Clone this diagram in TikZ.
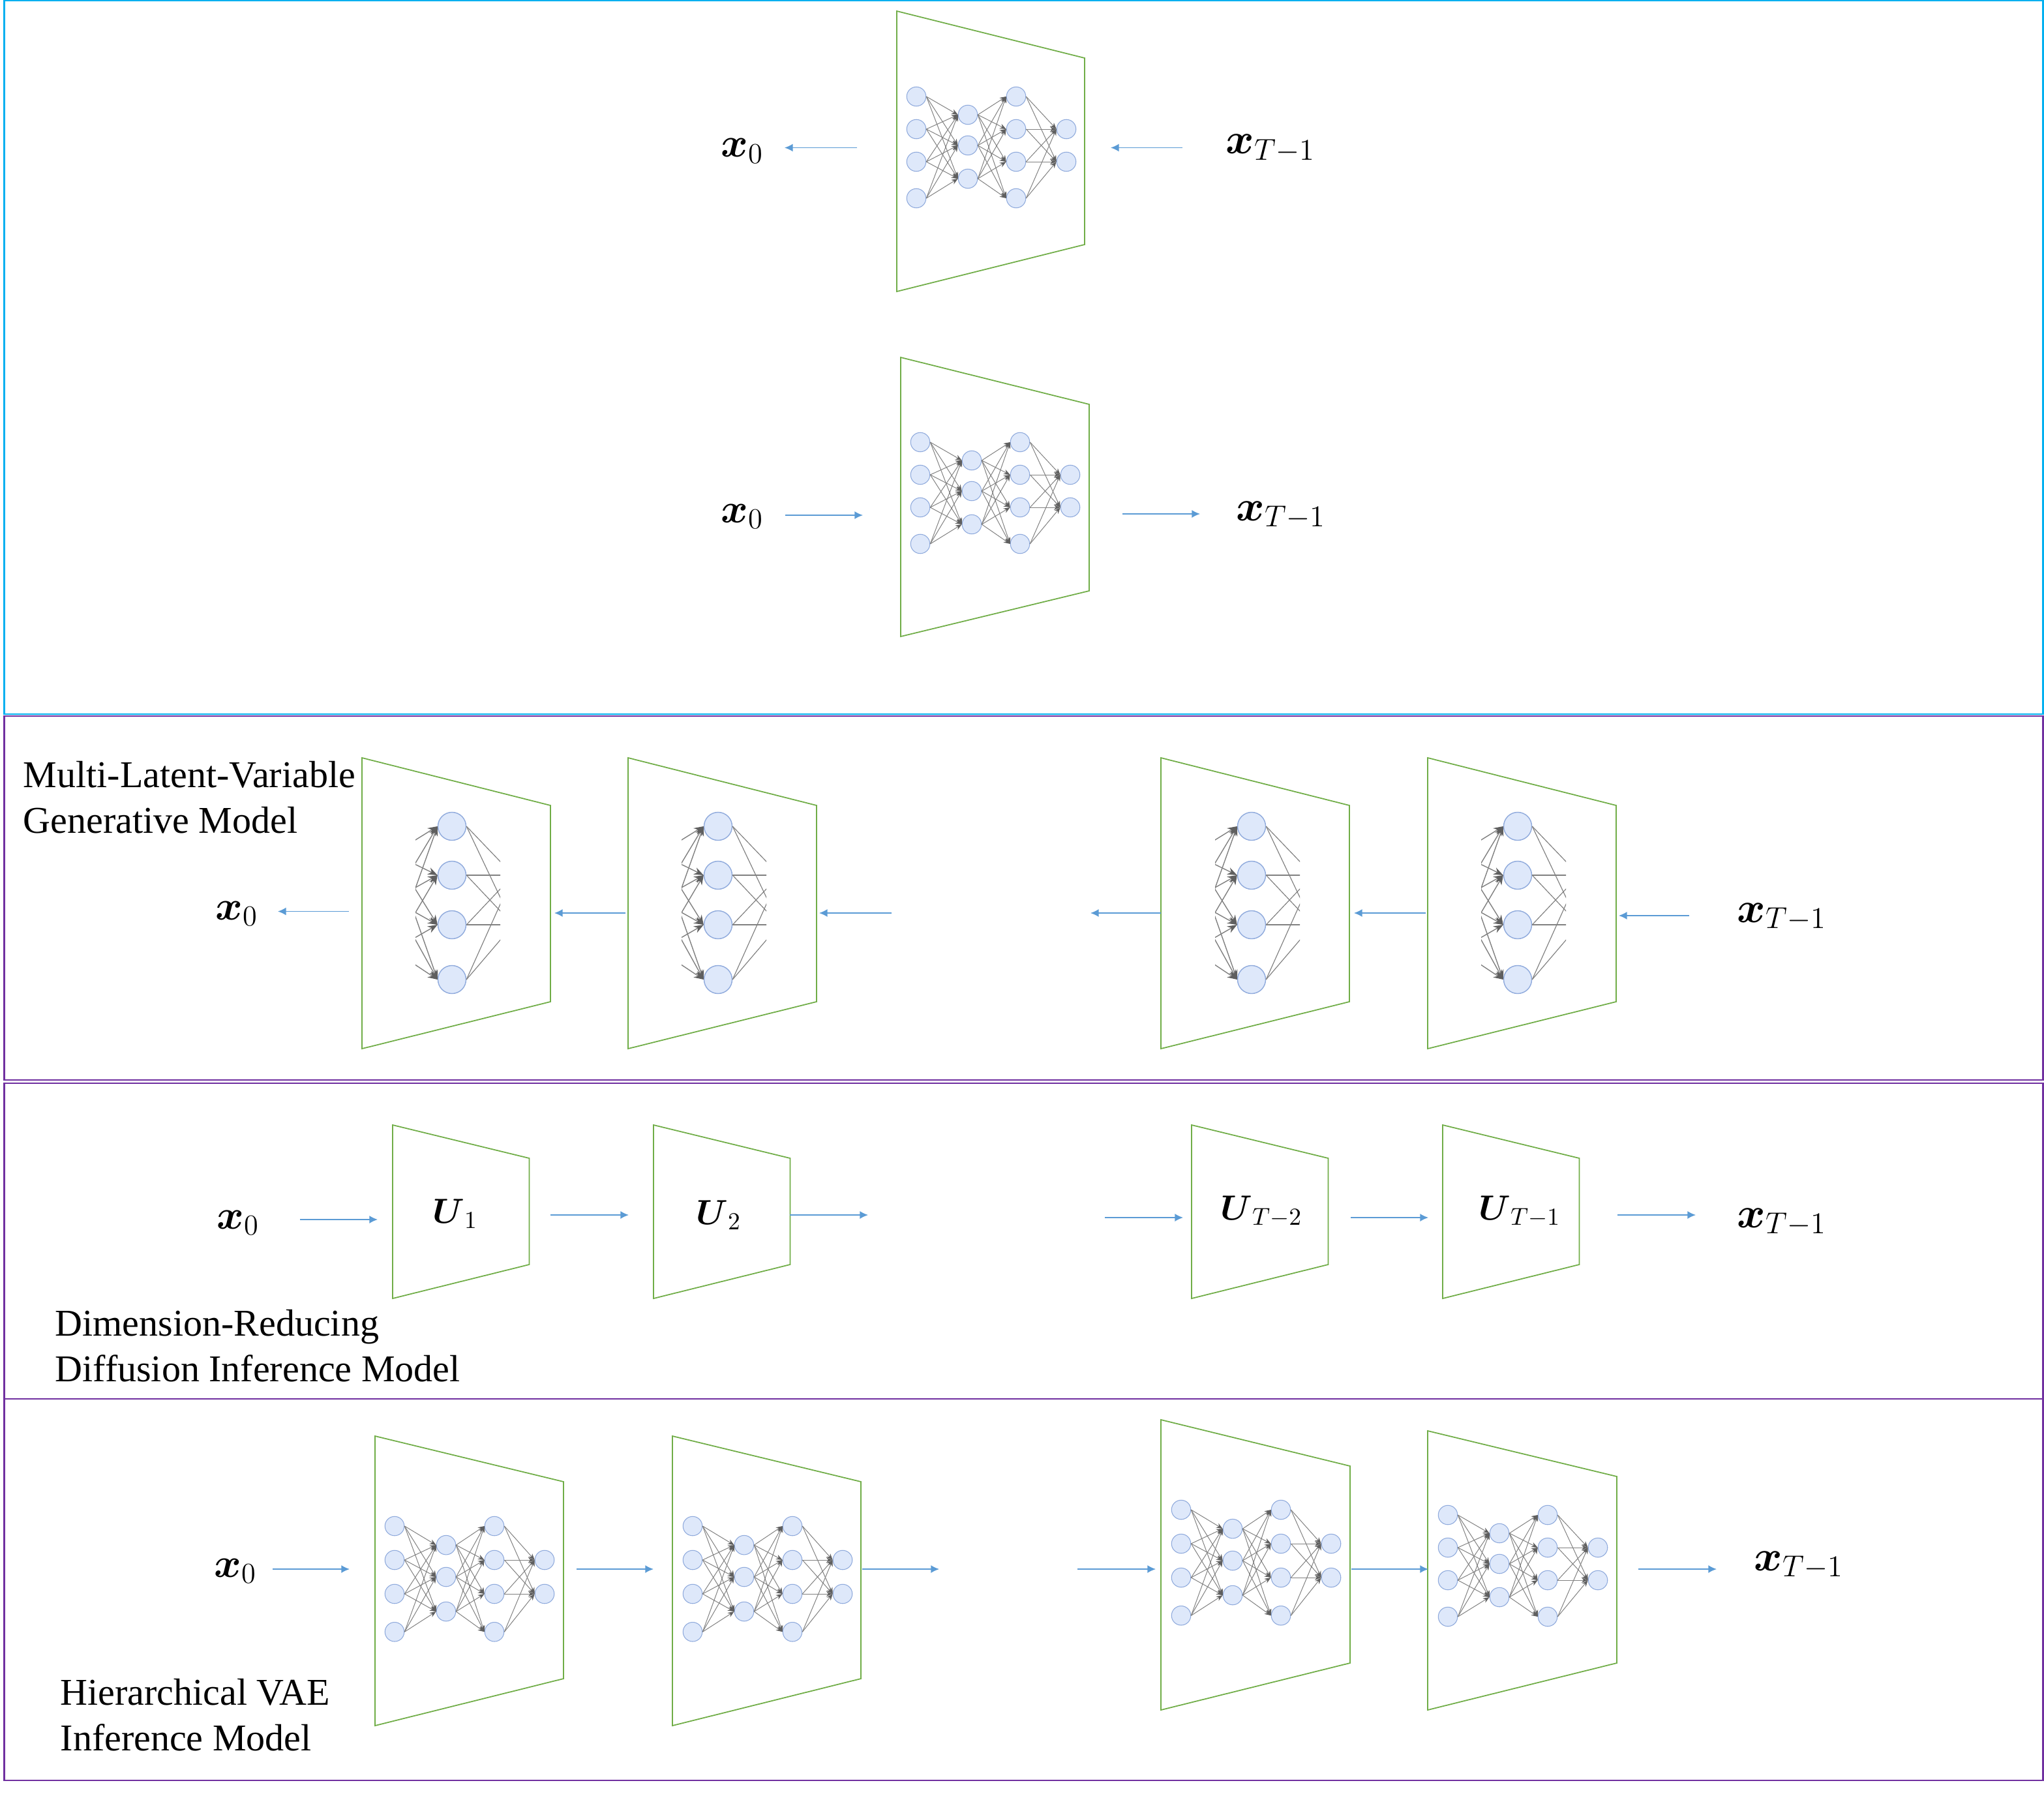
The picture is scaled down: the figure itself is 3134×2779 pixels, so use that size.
\documentclass[tikz,border=0pt]{standalone}
\usepackage{fix-cm}
\usepackage{amsmath,amssymb}
\usepackage{fontspec}
\setmainfont{Liberation Serif}
\usetikzlibrary{arrows.meta}
\definecolor{panelcyan}{HTML}{00B0F0}
\definecolor{panelpurple}{HTML}{7030A0}
\definecolor{trapgreen}{HTML}{70AD47}
\definecolor{flowblue}{HTML}{5B9BD5}
\definecolor{neuronfill}{HTML}{DEE8FA}
\definecolor{neuronline}{HTML}{8FAADC}
\definecolor{edgegray}{HTML}{808080}
\definecolor{tipgray}{HTML}{5F5F5F}
\tikzset{
  panelbox/.style={line width=0.6pt},
  trap/.style={draw=trapgreen,line width=0.5pt,line join=miter},
  flowarrow/.style={draw=flowblue,line width=0.4pt,-{Latex[length=3.6pt,width=3.4pt,flowblue]}},
  neuron/.style={circle,draw=neuronline,fill=neuronfill,line width=0.3pt,minimum size=0.295cm,inner sep=0pt},
  bigneuron/.style={neuron,line width=0.4pt,minimum size=0.43cm},
  edge/.style={draw=edgegray,line width=0.28pt,-{Stealth[length=2.8pt,width=2.2pt,tipgray]}},
  bigedge/.style={draw=edgegray,line width=0.4pt,-{Stealth[length=4.2pt,width=3.2pt,tipgray]}},
  plainedge/.style={draw=edgegray,line width=0.33pt},
  mathlabel/.style={inner sep=0pt,anchor=base,font=\fontsize{18.8}{22}\selectfont},
  zerolabel/.style={inner sep=0pt,anchor=base,font=\fontsize{18}{22}\selectfont},
  ulabel/.style={inner sep=0pt,anchor=base,font=\fontsize{15.2}{18}\selectfont},
  caption/.style={inner sep=0pt,anchor=base west,align=left,font=\fontsize{16.5}{19.9}\selectfont},
}
\newcommand{\flow}[4]{%
  \coordinate (#1s) at (#2,#4);
  \coordinate (#1e) at (#3,#4);
  \draw[flowarrow] (#1s) -- (#1e);}
\newcommand{\trapezoid}[6]{% left,right,top,upper right,lower right,bottom
  \draw[trap] (#1,#3) -- (#2,#4) -- (#2,#5) -- (#1,#6) -- cycle;}
% full four-column network: name, x of first column, y of first row, vertical factor
\newcommand{\fullnet}[4]{%
  \foreach \c/\dx in {a/0,c/153}{
    \foreach \r/\dy in {1/0,2/50,3/100,4/156}{
      \node[neuron] (#1\c\r) at ({#2+\dx},{#3+\dy*#4}) {};
    }
  }
  \foreach \r/\dy in {1/28,2/75,3/126}{
    \node[neuron] (#1b\r) at ({#2+79},{#3+\dy*#4}) {};
  }
  \foreach \r/\dy in {1/50,2/100}{
    \node[neuron] (#1d\r) at ({#2+230},{#3+\dy*#4}) {};
  }
  \foreach \i in {1,2,3,4}{\foreach \j in {1,2,3}{
    \draw[edge] (#1a\i.east) -- (#1b\j.west);
    \draw[edge] (#1b\j.east) -- (#1c\i.west);
  }}
  \foreach \i in {1,2,3,4}{\foreach \j in {1,2}{
    \draw[edge] (#1c\i.east) -- (#1d\j.west);
  }}
}
% enlarged, cropped column: name, x of its centre
\newcommand{\cropnet}[2]{%
  \foreach \r/\y in {1/1267,2/1342,3/1418,4/1502}{
    \node[bigneuron] (#1c\r) at (#2,\y) {};
  }
  \foreach \r/\y in {1/1309,2/1380,3/1457}{
    \coordinate (#1b\r) at ({#2-90},\y);
  }
  \foreach \r/\y in {1/1342,2/1418}{
    \coordinate (#1d\r) at ({#2+94},\y);
  }
  \begin{scope}
    \clip ({#2-56},1200) rectangle ({#2+74},1560);
    \foreach \i in {1,2,3,4}{\foreach \j in {1,2,3}{
      \draw[bigedge] (#1b\j) -- (#1c\i.west);
    }}
    \foreach \i in {1,2,3,4}{\foreach \j in {1,2}{
      \draw[plainedge] (#1c\i.east) -- (#1d\j);
    }}
  \end{scope}
}
\begin{document}
\begin{tikzpicture}[x=0.01cm,y=-0.01cm]
\useasboundingbox (0,0) rectangle (3134,2779);
% panels
\draw[panelbox,draw=panelcyan] (6.5,1) rectangle (3132.5,1095);
\draw[panelbox,draw=panelpurple] (6.5,1098) rectangle (3132.5,1656);
\draw[panelbox,draw=panelpurple] (6.5,1661) rectangle (3132.5,2145);
\draw[panelbox,draw=panelpurple] (6.5,2145) rectangle (3132.5,2730);
% top panel
\trapezoid{1375}{1663}{17}{89}{375}{447}
\trapezoid{1381}{1670}{548}{620}{906}{976}
\fullnet{ta}{1405}{148}{1}
\fullnet{tb}{1411}{678}{1}
\node[zerolabel] (tx0) at (1138,241) {$\boldsymbol{x}_0$};
\node[mathlabel] (txT) at (1948,236) {$\boldsymbol{x}_{T-1}$};
\node[zerolabel] (ux0) at (1138,801) {$\boldsymbol{x}_0$};
\node[mathlabel] (uxT) at (1964,798) {$\boldsymbol{x}_{T-1}$};
\flow{fa}{1314}{1203}{226.5}
\flow{fb}{1813}{1703}{226.5}
\flow{fc}{1204}{1323}{790}
\flow{fd}{1721}{1840}{788}
% generative panel
\node[caption] (gcap) at (35,1277) {Multi-Latent-Variable\\Generative Model};
\foreach \L in {555,963,1780,2189}{\trapezoid{\L}{\L+289}{1162}{1235}{1536}{1608}}
\cropnet{ga}{693}
\cropnet{gb}{1101}
\cropnet{gc}{1919}
\cropnet{gd}{2327}
\node[zerolabel] (gx0) at (363,1410) {$\boldsymbol{x}_0$};
\node[mathlabel] (gxT) at (2732,1414) {$\boldsymbol{x}_{T-1}$};
\flow{ga}{535}{426}{1397.5}
\flow{gb}{959}{850}{1400}
\flow{gc}{1367}{1256}{1400}
\flow{gd}{1780}{1672}{1400}
\flow{ge}{2186}{2076}{1400}
\flow{gf}{2590}{2482}{1404}
% dimension-reducing panel
\foreach \L in {602,1002,1827,2212}{\trapezoid{\L}{\L+209.5}{1725}{1776}{1939}{1991}}
\node[ulabel] (dU1) at (698,1875) {$\boldsymbol{U}_1$};
\node[ulabel] (dU2) at (1102,1877) {$\boldsymbol{U}_2$};
\node[ulabel] (dU3) at (1934,1870) {$\boldsymbol{U}_{T-2}$};
\node[ulabel] (dU4) at (2330,1870) {$\boldsymbol{U}_{T-1}$};
\node[zerolabel] (dx0) at (365,1884) {$\boldsymbol{x}_0$};
\node[mathlabel] (dxT) at (2732,1882) {$\boldsymbol{x}_{T-1}$};
\flow{da}{460}{579}{1870}
\flow{db}{844}{964}{1863}
\flow{dc}{1211}{1331}{1863}
\flow{dd}{1694}{1814}{1867}
\flow{de}{2071}{2190}{1867}
\flow{df}{2480}{2600}{1863}
\node[caption] (dcap) at (84,2118.5) {Dimension-Reducing\\Diffusion Inference Model};
% hierarchical panel
\trapezoid{575}{864}{2202}{2272}{2574}{2646}
\trapezoid{1031}{1320}{2202}{2272}{2574}{2646}
\trapezoid{1780}{2070}{2177}{2248}{2550}{2622}
\trapezoid{2189}{2479}{2194}{2264}{2550}{2622}
\fullnet{ha}{605}{2340}{1.04}
\fullnet{hb}{1062}{2340}{1.04}
\fullnet{hc}{1811}{2315}{1.04}
\fullnet{hd}{2220}{2323}{1}
\node[zerolabel] (hx0) at (361,2418) {$\boldsymbol{x}_0$};
\node[mathlabel] (hxT) at (2758,2408) {$\boldsymbol{x}_{T-1}$};
\flow{ha}{418}{536}{2406}
\flow{hb}{884}{1002}{2406}
\flow{hc}{1322}{1440}{2406}
\flow{hd}{1652}{1772}{2406}
\flow{he}{2072}{2190}{2406}
\flow{hf}{2512}{2632}{2406}
\node[caption] (hcap) at (92,2684.5) {Hierarchical VAE\\Inference Model};
\end{tikzpicture}
\end{document}
